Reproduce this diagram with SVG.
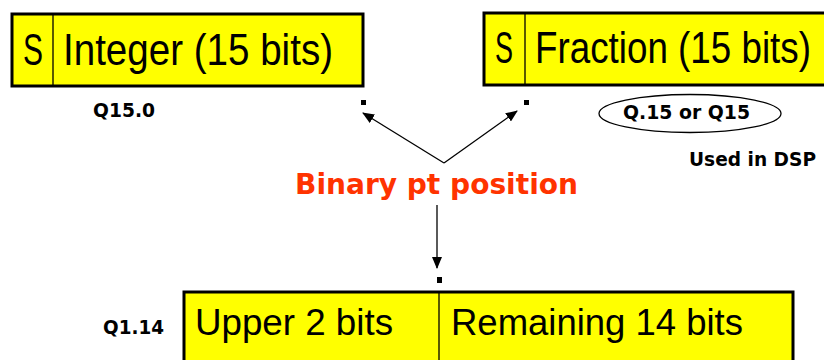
<svg xmlns="http://www.w3.org/2000/svg" width="824" height="360" viewBox="0 0 824 360">
<defs>
<marker id="ah" markerWidth="12" markerHeight="10" refX="11" refY="5" orient="auto" markerUnits="userSpaceOnUse">
<path d="M0,0 L12,5 L0,10 Z" fill="#000"/>
</marker>
<style>
.box{fill:#ffff00;stroke:#000;stroke-width:3}
.fill{fill:#ffff00}
.edge{fill:none;stroke:#000;stroke-width:3}
.div{stroke:#000;stroke-width:1.3}
.big{font-family:"Liberation Sans",Arial,sans-serif;font-size:44px;fill:#000}
.mid{font-family:"Liberation Sans",Arial,sans-serif;font-size:36px;fill:#000}
.lbl{font-family:"DejaVu Sans",Verdana,sans-serif;font-weight:bold;font-size:19px;fill:#000}
.red{font-family:"DejaVu Sans",Verdana,sans-serif;font-weight:bold;font-size:29px;fill:#ff3300}
.con{stroke:#000;stroke-width:1.3;fill:none}
.dot{fill:#000}
</style>
</defs>
<rect width="824" height="360" fill="#fff"/>
<g id="integer-word">
<rect class="box" x="12" y="14" width="351" height="72"/>
<line class="div" x1="53" y1="14" x2="53" y2="86"/>
<text class="big" x="23" y="65" textLength="20" lengthAdjust="spacingAndGlyphs">S</text>
<text class="big" x="63" y="65" textLength="270" lengthAdjust="spacingAndGlyphs">Integer (15 bits)</text>
</g>
<g id="q15-0">
<text class="lbl" x="93" y="117" textLength="62" lengthAdjust="spacingAndGlyphs">Q15.0</text>
</g>
<g id="fraction-word">
<rect class="fill" x="484" y="13" width="340" height="72"/>
<path class="edge" d="M824,13 H484 V85 H824"/>
<line class="div" x1="525" y1="13" x2="525" y2="85"/>
<text class="big" x="495" y="63" textLength="18" lengthAdjust="spacingAndGlyphs">S</text>
<text class="big" transform="translate(535,63) scale(0.836,1)" x="0" y="0">Fraction (15 bits)</text>
</g>
<g id="q15">
<ellipse cx="690" cy="113.5" rx="91" ry="19" fill="none" stroke="#000" stroke-width="1.3"/>
<text class="lbl" x="623" y="119" textLength="127" lengthAdjust="spacingAndGlyphs">Q.15 or Q15</text>
</g>
<g id="used-dsp">
<text class="lbl" x="689" y="166" textLength="127" lengthAdjust="spacingAndGlyphs">Used in DSP</text>
</g>
<g id="points">
<rect class="dot" x="361" y="100" width="5" height="5"/>
<rect class="dot" x="524" y="100" width="5" height="5"/>
<rect class="dot" x="437" y="277" width="5" height="6"/>
</g>
<g id="binary-pt">
<text class="red" x="295" y="194" textLength="283" lengthAdjust="spacingAndGlyphs">Binary pt position</text>
</g>
<g id="q1-14-word">
<rect class="fill" x="184" y="292" width="609" height="68"/>
<path class="edge" d="M184,360 V292 H793 V360"/>
<line class="div" x1="439" y1="292" x2="439" y2="360"/>
<text class="mid" x="195" y="335" textLength="198" lengthAdjust="spacingAndGlyphs">Upper 2 bits</text>
<text class="mid" x="451" y="335" textLength="292" lengthAdjust="spacingAndGlyphs">Remaining 14 bits</text>
</g>
<g id="q1-14">
<text class="lbl" x="103" y="334" textLength="61" lengthAdjust="spacingAndGlyphs">Q1.14</text>
</g>
<g id="connectors">
<line class="con" x1="444" y1="163" x2="363" y2="113" marker-end="url(#ah)"/>
<line class="con" x1="444" y1="163" x2="517" y2="111" marker-end="url(#ah)"/>
<line class="con" x1="437" y1="205" x2="437" y2="268" marker-end="url(#ah)"/>
</g>
</svg>
